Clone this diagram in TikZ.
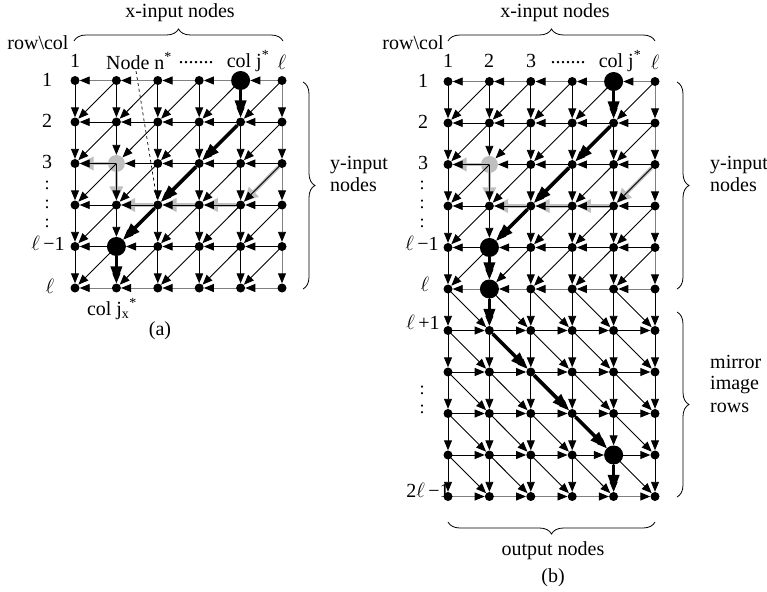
\documentclass[tikz,border=0pt]{standalone}
\usepackage{fontspec}
\setmainfont{Liberation Serif}
\usetikzlibrary{arrows.meta,decorations.pathreplacing,calc}
\pgfdeclarelayer{back}
\pgfdeclarelayer{mid}
\pgfsetlayers{back,mid,main}
\begin{document}
\begin{tikzpicture}[x=1pt,y=-1pt,
  font=\fontsize{20}{22}\selectfont,
  dot/.style={circle,fill=black,inner sep=0pt,minimum size=9pt},
  bigdot/.style={minimum size=19pt},
  graynode/.style={fill=none,minimum size=17pt},
  gedge/.style={line width=0.9pt,-{Triangle[length=10pt,width=8pt,color=black]}},
  bord/.style={draw=black!50},
  hot/.style={line width=3.6pt,-{Triangle[length=17pt,width=11pt]}},
  ghost/.style={line width=3.6pt,draw=black!25,-{Triangle[length=14pt,width=13pt]}},
  lab/.style={inner sep=0pt,anchor=center},
  vdots/.style={inner sep=0pt,align=center,font=\fontsize{18}{19}\selectfont},
  brc/.style={decorate,decoration={brace,amplitude=12pt},line width=0.8pt},
  % special nodes
  sta-1-5/.style={bigdot}, sta-5-2/.style={bigdot}, sta-3-2/.style={graynode},
  stb-1-5/.style={bigdot}, stb-5-2/.style={bigdot}, stb-6-2/.style={bigdot},
  stb-10-5/.style={bigdot}, stb-3-2/.style={graynode},
  % border edge colours
  ha-1/.style={bord}, ha-6/.style={bord}, va-6/.style={bord},
  hb-1/.style={bord}, hb-6/.style={bord}, hb-11/.style={bord},
  vb-1-6/.style={bord}, vb-2-6/.style={bord}, vb-3-6/.style={bord},
  vb-4-6/.style={bord}, vb-5-6/.style={bord},
]
\useasboundingbox (0,0) rectangle (767,591);

% ---------------- nodes
\foreach \r in {1,...,6}{\foreach \c in {1,...,6}{
  \node[dot, sta-\r-\c/.try] (a-\r-\c) at ({75+(\c-1)*41.4},{80.5+(\r-1)*41.5}) {};
}}
\foreach \r in {1,...,11}{\foreach \c in {1,...,6}{
  \node[dot, stb-\r-\c/.try] (b-\r-\c) at ({448+(\c-1)*41.4},{81.5+(\r-1)*41.5}) {};
}}

% ---------------- thin edges
\begin{pgfonlayer}{mid}
% panel (a)
\foreach \r in {1,...,6}{\foreach \c [evaluate=\c as \d using int(\c+1)] in {1,...,5}{
  \draw[gedge, ha-\r/.try] (a-\r-\d.center) -- (a-\r-\c);
}}
\foreach \r [evaluate=\r as \n using int(\r+1)] in {1,...,5}{\foreach \c in {1,...,6}{
  \draw[gedge, va-\c/.try] (a-\r-\c.center) -- (a-\n-\c);
}}
\foreach \r [evaluate=\r as \n using int(\r+1)] in {1,...,5}{\foreach \c [evaluate=\c as \d using int(\c+1)] in {1,...,5}{
  \draw[gedge] (a-\r-\d.center) -- (a-\n-\c);
}}
% panel (b)
\foreach \r in {1,...,6}{\foreach \c [evaluate=\c as \d using int(\c+1)] in {1,...,5}{
  \draw[gedge, hb-\r/.try] (b-\r-\d.center) -- (b-\r-\c);
}}
\foreach \r in {7,...,11}{\foreach \c [evaluate=\c as \d using int(\c+1)] in {1,...,5}{
  \draw[gedge, hb-\r/.try] (b-\r-\c.center) -- (b-\r-\d);
}}
\foreach \r [evaluate=\r as \n using int(\r+1)] in {1,...,10}{\foreach \c in {1,...,6}{
  \draw[gedge, vb-\r-\c/.try] (b-\r-\c.center) -- (b-\n-\c);
}}
\foreach \r [evaluate=\r as \n using int(\r+1)] in {1,...,5}{\foreach \c [evaluate=\c as \d using int(\c+1)] in {1,...,5}{
  \draw[gedge] (b-\r-\d.center) -- (b-\n-\c);
}}
\foreach \r [evaluate=\r as \n using int(\r+1)] in {6,...,10}{\foreach \c [evaluate=\c as \d using int(\c+1)] in {1,...,5}{
  \draw[gedge] (b-\r-\c.center) -- (b-\n-\d);
}}
\end{pgfonlayer}

% ---------------- grey paths
\begin{pgfonlayer}{back}
\foreach \p in {a,b}{
  \fill[black!25] (\p-3-2) circle (8.5);
  \draw[ghost] (\p-3-2) -- (\p-3-1);
  \draw[ghost] (\p-3-2) -- (\p-4-2);
  \draw[ghost] (\p-3-6) -- (\p-4-5);
  \draw[ghost] (\p-4-5) -- (\p-4-4);
  \draw[ghost] (\p-4-4) -- (\p-4-3);
  \draw[ghost] (\p-4-3) -- (\p-4-2);
}
\end{pgfonlayer}

% ---------------- thick black paths
\foreach \p in {a,b}{
  \draw[hot] (\p-1-5) -- (\p-2-5);
  \draw[hot] (\p-2-5) -- (\p-3-4);
  \draw[hot] (\p-3-4) -- (\p-4-3);
  \draw[hot] (\p-4-3) -- (\p-5-2);
  \draw[hot] (\p-5-2) -- (\p-6-2);
}
\draw[hot] (b-6-2) -- (b-7-2);
\draw[hot] (b-7-2) -- (b-8-3);
\draw[hot] (b-8-3) -- (b-9-4);
\draw[hot] (b-9-4) -- (b-10-5);
\draw[hot] (b-10-5) -- (b-11-5);

% ---------------- labels panel (a)
\node[lab] (xa) at (180,13) {x-input nodes};
\node[lab] (rca) at (38,43) {row\textbackslash col};
\node[lab] (ca1) at (75,61) {1};
\node[lab] (nn) at (139,61) {Node n\textsuperscript{*}};
\node[lab] (cad) at (196,63) {.......};
\node[lab] (caj) at (248,61) {col j\textsuperscript{*}};
\node[lab] (cal) at (282,62) {$\ell$};
\coordinate (nnfoot) at (136,71);
\draw[dashed,line width=0.7pt] (nnfoot) -- (a-4-3);
\node[lab] (ra1) at (47,80) {1};
\node[lab] (ra2) at (47,121) {2};
\node[lab] (ra3) at (47,162) {3};
\node[vdots] (rad) at (47,204) {:\\:\\:};
\node[lab] (ral1) at (48,243) {$\ell$\,−1};
\node[lab] (ral) at (50,286) {$\ell$};
\node[lab] (jxa) at (112,309) {col j\textsubscript{x}\textsuperscript{*}};
\node[lab] (capa) at (160,331) {(a)};
\draw[brc] (74,41) -- (283,41);
\draw[brc] (303,82) -- (303,289);
\node[lab,anchor=west] (ya1) at (330,165) {y-input};
\node[lab,anchor=west] (ya2) at (330,185) {nodes};

% ---------------- labels panel (b)
\node[lab] (xb) at (555,13) {x-input nodes};
\node[lab] (rcb) at (413,43) {row\textbackslash col};
\node[lab] (cb1) at (448,61) {1};
\node[lab] (cb2) at (489,61) {2};
\node[lab] (cb3) at (531,61) {3};
\node[lab] (cbd) at (568,63) {.......};
\node[lab] (cbj) at (620,61) {col j\textsuperscript{*}};
\node[lab] (cbl) at (655,62) {$\ell$};
\node[lab] (rb1) at (423,81) {1};
\node[lab] (rb2) at (423,122) {2};
\node[lab] (rb3) at (423,163) {3};
\node[vdots] (rbd) at (422,204) {:\\:\\:};
\node[lab] (rbl1) at (422,243) {$\ell$\,−1};
\node[lab] (rbl) at (425,284) {$\ell$};
\node[lab] (rbl2) at (423,322) {$\ell$\,+1};
\node[vdots] (rbd4) at (422,400) {:\\:};
\node[lab] (rb2l) at (428,490) {2$\ell$\,−1};
\draw[brc] (448,41) -- (655,41);
\draw[brc] (677,82) -- (677,289);
\draw[brc] (677,312) -- (677,497);
\draw[brc] (655,522) -- (448,522);
\node[lab,anchor=west] (yb1) at (710,165) {y-input};
\node[lab,anchor=west] (yb2) at (710,185) {nodes};
\node[lab,anchor=west] (mb1) at (710,362) {mirror};
\node[lab,anchor=west] (mb2) at (710,385) {image};
\node[lab,anchor=west] (mb3) at (710,408) {rows};
\node[lab] (ob) at (553,551) {output nodes};
\node[lab] (capb) at (553,578) {(b)};
\end{tikzpicture}
\end{document}
